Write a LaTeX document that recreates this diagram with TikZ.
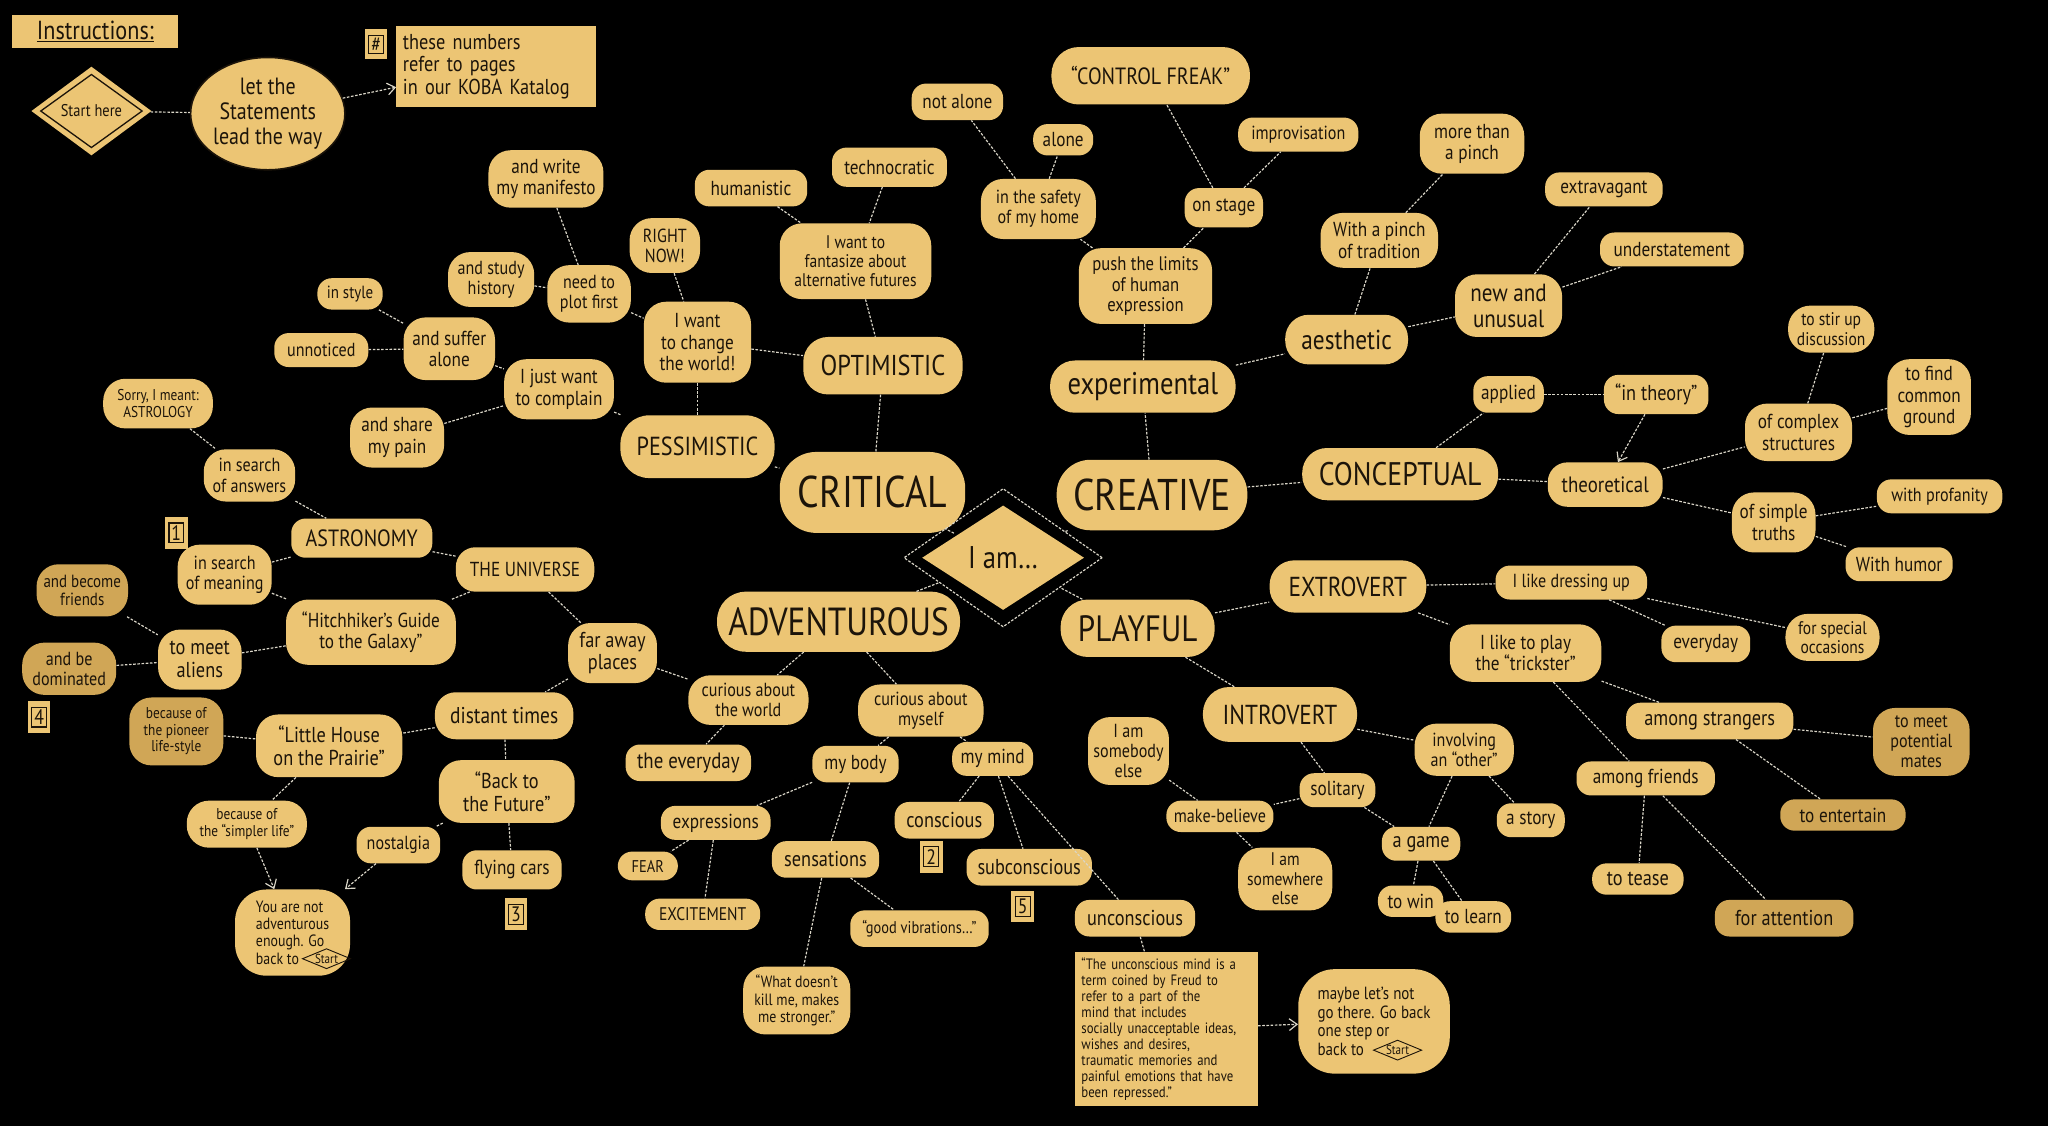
\documentclass[tikz,border=0pt]{standalone}
\usepackage{fontspec}
\setmainfont{PT Sans}[FakeStretch=0.85]
\usetikzlibrary{shapes.geometric,shapes.misc,arrows.meta}
\definecolor{gold}{RGB}{236,197,116}
\definecolor{golddk}{RGB}{208,166,86}
\definecolor{ink}{RGB}{28,20,10}
\definecolor{chalk}{RGB}{218,214,200}
\newcommand\fz[1]{\fontsize{#1}{#1}\selectfont\baselineskip=1.06\baselineskip}
\setlength\fboxsep{1.5pt}
\setlength\fboxrule{0.9pt}
\tikzset{
  b/.style={rectangle, rounded corners=11pt, fill=gold, text=ink, inner sep=1.5pt, align=center},
  bm/.style={b, rounded corners=17pt},
  bl/.style={b, rounded corners=19pt},
  dk/.style={fill=golddk},
  chalk/.style={draw=chalk, line width=0.9pt, dash pattern=on 2pt off 1.2pt},
  chalkar/.style={chalk, -{Straight Barb[length=6pt,width=9pt]}},
  numbox/.style={rectangle, fill=gold, text=ink, inner xsep=2.5pt, inner ysep=4pt, font=\fz{16}},
  minidiam/.style={diamond, draw=ink, line width=0.7pt, inner sep=0.3pt, aspect=2.4, text=ink, font=\fz{10}},
}
\newcommand\nd[7]{\node[#1,minimum width=#4,minimum height=#5,font=\fz{#6}] (#2) at #3 {#7};}
\begin{document}
\begin{tikzpicture}[x=1pt,y=-1pt]
\useasboundingbox (0,0) rectangle (1568,862);
\fill[black] (0,0) rectangle (1568,862);

% ---------------- instructions
\node[rectangle, fill=gold, text=ink, minimum width=127, minimum height=25, inner sep=1pt, font=\fz{20}] (instr) at (73,24) {\underline{Instructions:}};
\node[diamond, fill=gold, minimum width=92, minimum height=68, inner sep=0pt] (start) at (70,85) {};
\node[diamond, draw=ink, line width=1pt, minimum width=78, minimum height=56, inner sep=0pt, text=ink, font=\fz{13}] (starti) at (70,85) {Start here};
\node[ellipse, fill=gold, draw=ink, line width=1.2pt, minimum width=116, minimum height=86, inner sep=0pt, align=center, text=ink, font=\fz{18}] (letthe) at (205,87) {let the\\Statements\\lead the way};
\node[numbox] (hash) at (288,34) {\fbox{\#}};
\node[rectangle, fill=gold, text=ink, minimum width=153, minimum height=62, text width=143, align=left, font=\fz{16.5}] (kat) at (380,51) {these numbers\\refer to pages\\in our KOBA Katalog};

% ---------------- critical branch
\nd{bm}{manifesto}{(418,137)}{88}{44}{15.5}{and write\\my manifesto}
\nd{bm}{history}{(376,214)}{66}{42}{14.5}{and study\\history}
\nd{bm}{plotfirst}{(451,225)}{64}{44}{14.5}{need to\\plot first}
\nd{bm}{rightnow}{(509,188)}{54}{42}{14.5}{RIGHT\\NOW!}
\nd{bm}{changeworld}{(534,262)}{82}{62}{15.5}{I want\\to change\\the world!}
\nd{b}{humanistic}{(575,144)}{86}{28}{15.5}{humanistic}
\nd{b}{technocratic}{(681,128)}{88}{30}{15.5}{technocratic}
\nd{bm}{fantasize}{(655,200)}{116}{58}{14}{I want to\\fantasize about\\alternative futures}
\nd{bl}{optimistic}{(676,280)}{122}{44}{22}{OPTIMISTIC}
\nd{b}{instyle}{(268,225)}{50}{24}{13.5}{in style}
\nd{b}{unnoticed}{(246,268)}{72}{26}{14.5}{unnoticed}
\nd{bm}{suffer}{(344,267)}{70}{48}{15.5}{and suffer\\alone}
\nd{bm}{complain}{(428,298)}{84}{46}{15.5}{I just want\\to complain}
\nd{bm}{sharepain}{(304,335)}{72}{46}{15.5}{and share\\my pain}
\nd{bl,rounded corners=22pt}{pessimistic}{(534,342)}{118}{48}{20}{PESSIMISTIC}
\nd{bl,rounded corners=28pt}{critical}{(668,377)}{142}{62}{34}{CRITICAL}

% ---------------- astronomy branch
\nd{bm}{astrology}{(121,309)}{84}{38}{12}{Sorry, I meant:\\ASTROLOGY}
\nd{bm}{answers}{(191,364)}{70}{40}{14.5}{in search\\of answers}
\node[numbox] (n1) at (135,408) {\fbox{1}};
\nd{b}{astronomy}{(277,412)}{108}{30}{18}{ASTRONOMY}
\nd{bm}{meaning}{(172,440)}{72}{46}{14.5}{in search\\of meaning}
\nd{b,rounded corners=15pt}{universe}{(402,436)}{106}{34}{15.5}{THE UNIVERSE}
\nd{bm,dk}{friends}{(63,452)}{70}{40}{13.5}{and become\\friends}
\nd{bm}{hitch}{(284,484)}{130}{50}{15.5}{“Hitchhiker’s Guide\\to the Galaxy”}
\nd{bm}{aliens}{(153,505)}{64}{46}{16.5}{to meet\\aliens}
\nd{bm,dk}{dominated}{(53,512)}{72}{40}{14.5}{and be\\dominated}
\node[numbox] (n4) at (30,549) {\fbox{4}};
\nd{bm}{faraway}{(469,500)}{68}{46}{16.5}{far away\\places}
\nd{b,rounded corners=16pt}{distant}{(386,548)}{106}{36}{17.5}{distant times}
\nd{bm,dk}{pioneer}{(135,560)}{72}{52}{12}{because of\\the pioneer\\life-style}
\nd{bm}{littlehouse}{(252,571)}{112}{48}{16.5}{“Little House\\on the Prairie”}
\nd{bm}{backfuture}{(388,606)}{104}{48}{16.5}{“Back to\\the Future”}
\nd{bm}{simpler}{(189,631)}{92}{36}{12}{because of\\the “simpler life”}
\nd{b}{nostalgia}{(305,647)}{64}{28}{14.5}{nostalgia}
\nd{b}{flying}{(392,666)}{76}{30}{15.5}{flying cars}
\node[numbox] (n3) at (395,700) {\fbox{3}};
\nd{bm,rounded corners=24pt,align=left}{notadv}{(224,714)}{88}{66}{12.5}{You are not\\adventurous\\enough. Go\\back to}
\node[minidiam] (startA) at (250,734) {Start};

% ---------------- adventurous branch
\nd{bl,rounded corners=22pt}{adventurous}{(642,476)}{186}{46}{30}{ADVENTUROUS}
\nd{bm}{curiousworld}{(573,536)}{92}{38}{14.5}{curious about\\the world}
\nd{b}{everyday}{(527,584)}{96}{28}{17}{the everyday}
\nd{bm}{curiousmyself}{(705,544)}{96}{40}{14.5}{curious about\\myself}
\nd{b}{mybody}{(655,585)}{66}{28}{15.5}{my body}
\nd{b}{mymind}{(760,581)}{62}{26}{15.5}{my mind}
\nd{b}{expressions}{(548,630)}{84}{26}{15.5}{expressions}
\nd{b}{fear}{(496,663)}{46}{22}{13}{FEAR}
\nd{b}{sensations}{(632,658)}{82}{28}{16.5}{sensations}
\nd{b}{conscious}{(723,628)}{76}{28}{16.5}{conscious}
\node[numbox] (n2) at (713,656) {\fbox{2}};
\nd{b}{subconscious}{(788,664)}{96}{28}{16.5}{subconscious}
\node[numbox] (n5) at (783,694) {\fbox{5}};
\nd{b}{excitement}{(538,700)}{88}{24}{14}{EXCITEMENT}
\nd{b}{goodvib}{(704,711)}{106}{28}{13}{“good vibrations…”}
\nd{b}{unconscious}{(869,703)}{92}{28}{16.5}{unconscious}
\nd{bm}{whatdoesnt}{(610,766)}{82}{52}{12.5}{“What doesn’t\\kill me, makes\\me stronger.”}
\node[rectangle, fill=gold, text=ink, minimum width=140, minimum height=118, text width=130, inner sep=2pt, align=left, font=\fz{11.5}] (quote) at (893,788) {“The unconscious mind is a\\term coined by Freud to\\refer to a part of the\\mind that includes\\socially unacceptable ideas,\\wishes and desires,\\traumatic memories and\\painful emotions that have\\been repressed.”};
\nd{bm,rounded corners=28pt,align=left}{maybe}{(1052,782)}{116}{80}{13.5}{maybe let’s not\\go there. Go back\\one step or\\back to}
\node[minidiam] (startB) at (1070,804) {Start};

% ---------------- centre
\node[diamond, chalk, minimum width=152, minimum height=106, inner sep=0pt] (iamout) at (768,427) {};
\node[diamond, fill=gold, text=ink, minimum width=124, minimum height=80, inner sep=0pt, font=\fz{24}] (iam) at (768,427) {I am…};

% ---------------- creative branch
\nd{bl,rounded corners=26pt}{creative}{(882,379)}{146}{54}{34}{CREATIVE}
\nd{bl}{experimental}{(875,296)}{142}{40}{24}{experimental}
\nd{bm}{pushlimits}{(877,219)}{102}{58}{15}{push the limits\\of human\\expression}
\nd{bm}{safety}{(795,160)}{88}{46}{14.5}{in the safety\\of my home}
\nd{b}{notalone}{(733,78)}{70}{28}{15.5}{not alone}
\nd{b}{alone}{(814,107)}{46}{24}{15.5}{alone}
\nd{bl,rounded corners=21pt}{controlfreak}{(881,58)}{152}{44}{18}{“CONTROL FREAK”}
\nd{b}{onstage}{(937,159)}{60}{30}{15.5}{on stage}
\nd{b}{improv}{(994,103)}{92}{26}{14.5}{improvisation}
\nd{bl,rounded corners=18pt}{aesthetic}{(1031,260)}{94}{38}{21}{aesthetic}
\nd{bm}{pinch}{(1056,184)}{90}{42}{15.5}{With a pinch\\of tradition}
\nd{bm}{morepinch}{(1127,110)}{80}{46}{15.5}{more than\\a pinch}
\nd{bm}{newunusual}{(1155,234)}{82}{48}{19}{new and\\unusual}
\nd{b}{extravagant}{(1228,145)}{90}{26}{15.5}{extravagant}
\nd{b}{understatement}{(1280,191)}{110}{26}{15.5}{understatement}
\nd{bl}{conceptual}{(1072,363)}{150}{40}{25}{CONCEPTUAL}
\nd{b}{applied}{(1155,302)}{54}{28}{15.5}{applied}
\nd{b}{intheory}{(1268,302)}{80}{30}{16.5}{“in theory”}
\nd{b,rounded corners=15pt}{theoretical}{(1229,371)}{88}{34}{17}{theoretical}
\nd{bm}{stirup}{(1402,252)}{66}{36}{14}{to stir up\\discussion}
\nd{bm}{commonground}{(1477,304)}{64}{58}{15.5}{to find\\common\\ground}
\nd{bm}{complex}{(1377,331)}{82}{44}{15.5}{of complex\\structures}
\nd{bm}{simple}{(1358,400)}{64}{46}{15.5}{of simple\\truths}
\nd{b}{profanity}{(1485,380)}{96}{26}{14.5}{with profanity}
\nd{b}{humor}{(1454,432)}{82}{26}{15.5}{With humor}

% ---------------- playful branch
\nd{bl,rounded corners=21pt}{playful}{(871,481)}{118}{44}{28}{PLAYFUL}
\nd{bl}{extrovert}{(1032,449)}{120}{40}{21}{EXTROVERT}
\nd{b}{dressing}{(1203,446)}{116}{26}{14.5}{I like dressing up}
\nd{b}{everydaytwo}{(1306,493)}{68}{28}{15.5}{everyday}
\nd{bm}{special}{(1403,488)}{72}{36}{14}{for special\\occasions}
\nd{bm}{trickster}{(1168,500)}{116}{44}{15.5}{I like to play\\the “trickster”}
\nd{b}{strangers}{(1309,552)}{128}{28}{16.5}{among strangers}
\nd{bm,dk}{mates}{(1471,568)}{74}{52}{14.5}{to meet\\potential\\mates}
\nd{b}{amongfriends}{(1260,596)}{106}{26}{15.5}{among friends}
\nd{b,dk}{entertain}{(1411,624)}{96}{24}{15.5}{to entertain}
\nd{b}{tease}{(1254,673)}{70}{24}{16.5}{to tease}
\nd{b,dk}{attention}{(1366,703)}{106}{28}{16.5}{for attention}
\nd{bl,rounded corners=20pt}{introvert}{(980,547)}{118}{42}{21}{INTROVERT}
\nd{bm}{somebody}{(864,575)}{62}{52}{14.5}{I am\\somebody\\else}
\nd{b}{makebelieve}{(934,625)}{82}{24}{14.5}{make-believe}
\nd{b}{solitary}{(1024,605)}{58}{26}{15.5}{solitary}
\nd{bm}{involving}{(1121,574)}{76}{40}{14.5}{involving\\an “other”}
\nd{b}{astory}{(1172,628)}{52}{26}{15.5}{a story}
\nd{b}{agame}{(1088,646)}{60}{26}{16.5}{a game}
\nd{bm}{somewhere}{(984,673)}{72}{48}{14}{I am\\somewhere\\else}
\nd{b}{towin}{(1080,690)}{50}{24}{15.5}{to win}
\nd{b}{tolearn}{(1128,702)}{58}{24}{15.5}{to learn}

% ---------------- connectors
\draw[chalk] (start) -- (letthe);
\draw[chalkar] (letthe) -- (kat);
\draw[chalk] (manifesto) -- (plotfirst);
\draw[chalk] (history) -- (plotfirst);
\draw[chalk] (plotfirst) -- (changeworld);
\draw[chalk] (rightnow) -- (changeworld);
\draw[chalk] (changeworld) -- (optimistic);
\draw[chalk] (changeworld) -- (pessimistic);
\draw[chalk] (humanistic) -- (fantasize);
\draw[chalk] (technocratic) -- (fantasize);
\draw[chalk] (fantasize) -- (optimistic);
\draw[chalk] (optimistic) -- (critical);
\draw[chalk] (instyle) -- (suffer);
\draw[chalk] (unnoticed) -- (suffer);
\draw[chalk] (suffer) -- (complain);
\draw[chalk] (sharepain) -- (complain);
\draw[chalk] (complain) -- (pessimistic);
\draw[chalk] (pessimistic) -- (critical);
\draw[chalk] (critical) -- (iamout);
\draw[chalk] (creative) -- (iamout);
\draw[chalk] (adventurous) -- (iamout);
\draw[chalk] (playful) -- (iamout);
\draw[chalk] (astrology) -- (answers);
\draw[chalk] (answers) -- (astronomy);
\draw[chalk] (meaning) -- (astronomy);
\draw[chalk] (astronomy) -- (universe);
\draw[chalk] (meaning) -- (hitch);
\draw[chalk] (universe) -- (hitch);
\draw[chalk] (friends) -- (aliens);
\draw[chalk] (dominated) -- (aliens);
\draw[chalk] (aliens) -- (hitch);
\draw[chalk] (universe) -- (faraway);
\draw[chalk] (faraway) -- (distant);
\draw[chalk] (faraway) -- (curiousworld);
\draw[chalk] (distant) -- (littlehouse);
\draw[chalk] (distant) -- (backfuture);
\draw[chalk] (pioneer) -- (littlehouse);
\draw[chalk] (littlehouse) -- (simpler);
\draw[chalkar] (simpler) -- (notadv);
\draw[chalk] (backfuture) -- (nostalgia);
\draw[chalkar] (nostalgia) -- (notadv);
\draw[chalk] (backfuture) -- (flying);
\draw[chalk] (adventurous) -- (curiousworld);
\draw[chalk] (curiousworld) -- (everyday);
\draw[chalk] (adventurous) -- (curiousmyself);
\draw[chalk] (curiousmyself) -- (mybody);
\draw[chalk] (curiousmyself) -- (mymind);
\draw[chalk] (mybody) -- (expressions);
\draw[chalk] (mybody) -- (sensations);
\draw[chalk] (expressions) -- (fear);
\draw[chalk] (expressions) -- (excitement);
\draw[chalk] (sensations) -- (goodvib);
\draw[chalk] (sensations) -- (whatdoesnt);
\draw[chalk] (mymind) -- (conscious);
\draw[chalk] (mymind) -- (subconscious);
\draw[chalk] (mymind) -- (unconscious);
\draw[chalk] (unconscious) -- (quote);
\draw[chalkar] (quote) -- (maybe);
\draw[chalk] (creative) -- (experimental);
\draw[chalk] (experimental) -- (pushlimits);
\draw[chalk] (pushlimits) -- (safety);
\draw[chalk] (safety) -- (notalone);
\draw[chalk] (safety) -- (alone);
\draw[chalk] (pushlimits) -- (onstage);
\draw[chalk] (onstage) -- (controlfreak);
\draw[chalk] (onstage) -- (improv);
\draw[chalk] (experimental) -- (aesthetic);
\draw[chalk] (aesthetic) -- (pinch);
\draw[chalk] (pinch) -- (morepinch);
\draw[chalk] (aesthetic) -- (newunusual);
\draw[chalk] (newunusual) -- (extravagant);
\draw[chalk] (newunusual) -- (understatement);
\draw[chalk] (creative) -- (conceptual);
\draw[chalk] (conceptual) -- (applied);
\draw[chalk] (applied) -- (intheory);
\draw[chalkar] (intheory) -- (theoretical);
\draw[chalk] (conceptual) -- (theoretical);
\draw[chalk] (theoretical) -- (complex);
\draw[chalk] (complex) -- (stirup);
\draw[chalk] (complex) -- (commonground);
\draw[chalk] (theoretical) -- (simple);
\draw[chalk] (simple) -- (profanity);
\draw[chalk] (simple) -- (humor);
\draw[chalk] (playful) -- (extrovert);
\draw[chalk] (extrovert) -- (dressing);
\draw[chalk] (dressing) -- (everydaytwo);
\draw[chalk] (dressing) -- (special);
\draw[chalk] (extrovert) -- (trickster);
\draw[chalk] (trickster) -- (strangers);
\draw[chalk] (strangers) -- (mates);
\draw[chalk] (strangers) -- (entertain);
\draw[chalk] (trickster) -- (amongfriends);
\draw[chalk] (amongfriends) -- (tease);
\draw[chalk] (amongfriends) -- (attention);
\draw[chalk] (playful) -- (introvert);
\draw[chalk] (introvert) -- (solitary);
\draw[chalk] (introvert) -- (involving);
\draw[chalk] (solitary) -- (makebelieve);
\draw[chalk] (somebody) -- (makebelieve);
\draw[chalk] (makebelieve) -- (somewhere);
\draw[chalk] (solitary) -- (agame);
\draw[chalk] (involving) -- (agame);
\draw[chalk] (involving) -- (astory);
\draw[chalk] (agame) -- (towin);
\draw[chalk] (agame) -- (tolearn);
\end{tikzpicture}
\end{document}
